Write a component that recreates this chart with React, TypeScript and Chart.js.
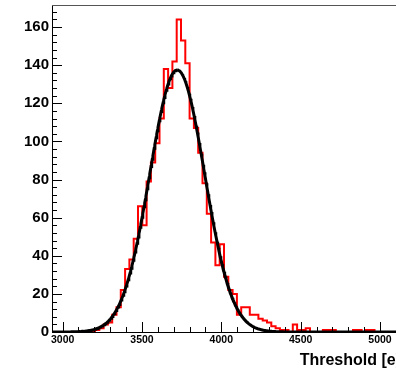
import React, { useEffect, useRef } from "react";
import { Chart, registerables } from "chart.js";

Chart.register(...registerables);

// ---- data ----
const X_MIN = 2933;
const X_MAX = 5101;
const N_BINS = 80;
const COUNTS = [
  0, 0, 0, 0, 0, 0, 0, 0, 0, 0,
  1, 2, 4, 5, 9, 13, 22, 33, 38, 49,
  66, 56, 79, 89, 99, 112, 138, 128, 142, 164,
  153, 141, 112, 107, 94, 78, 62, 47, 35, 46,
  29, 22, 20, 9, 13, 13, 9, 9, 7, 6,
  5, 3, 2, 1, 1, 0, 4, 1, 1, 2,
  0, 0, 0, 1, 1, 1, 0, 0, 0, 0,
  1, 1, 0, 1, 1, 0, 0, 0, 0, 0,
];
const FIT_CONSTANT = 137.5;
const FIT_MEAN = 3722;
const FIT_SIGMA = 172;
const X_TICKS = [3000, 3500, 4000, 4500, 5000];
const Y_TICKS = [0, 20, 40, 60, 80, 100, 120, 140, 160];
const Y_MAX = 171.6;
const X_TITLE = "Threshold [e]";

const FONT_FAMILY = '"Liberation Sans", Arial, Helvetica, sans-serif';

// step outline: each point sits at a bin's upper edge; "after" stepping draws
// the vertical at the previous edge, so bin k spans [low, high] at COUNTS[k]
function buildHistogram() {
  const w = (X_MAX - X_MIN) / N_BINS;
  const pts = COUNTS.map((c, k) => ({ x: X_MIN + (k + 1) * w, y: c }));
  pts.unshift({ x: X_MIN, y: 0 });
  return pts;
}

function buildFit() {
  const pts: { x: number; y: number }[] = [];
  for (let x = X_MIN; x <= X_MAX; x += 4) {
    const d = (x - FIT_MEAN) / FIT_SIGMA;
    pts.push({ x, y: FIT_CONSTANT * Math.exp(-0.5 * d * d) });
  }
  return pts;
}

const rootFrame = {
  id: "rootFrame",
  afterDraw(chart: any) {
    const { ctx, chartArea } = chart;
    const xs = chart.scales.x;
    const ys = chart.scales.y;
    ctx.save();
    // top frame line
    ctx.strokeStyle = "#555";
    ctx.lineWidth = 1;
    ctx.beginPath();
    ctx.moveTo(chartArea.left, chartArea.top + 0.5);
    ctx.lineTo(chartArea.right + 10, chartArea.top + 0.5);
    ctx.stroke();
    // ticks
    ctx.strokeStyle = "#000";
    ctx.lineWidth = 1;
    ctx.beginPath();
    const step = X_TICKS[1] - X_TICKS[0];
    const minorX = step / 5;
    for (let v = Math.ceil(X_MIN / minorX) * minorX; v <= X_MAX; v += minorX) {
      const px = Math.round(xs.getPixelForValue(v)) + 0.5;
      const major = Math.abs(v / step - Math.round(v / step)) < 1e-6;
      const len = major ? 10 : 5;
      ctx.moveTo(px, chartArea.bottom);
      ctx.lineTo(px, chartArea.bottom - len);
    }
    const ystep = Y_TICKS[1] - Y_TICKS[0];
    const minorY = ystep / 5;
    for (let v = 0; v <= Y_MAX; v += minorY) {
      const py = Math.round(ys.getPixelForValue(v)) + 0.5;
      const major = Math.abs(v / ystep - Math.round(v / ystep)) < 1e-6;
      const len = major ? 10 : 5;
      ctx.moveTo(chartArea.left, py);
      ctx.lineTo(chartArea.left + len, py);
    }
    ctx.stroke();
    // axis title
    ctx.fillStyle = "#000";
    ctx.font = `bold 16px ${FONT_FAMILY}`;
    ctx.textAlign = "right";
    ctx.textBaseline = "alphabetic";
    ctx.fillText(X_TITLE, 401, 364.5);
    ctx.restore();
  },
};

export default function App() {
  const ref = useRef<HTMLCanvasElement | null>(null);
  useEffect(() => {
    if (!ref.current) return;
    const chart = new Chart(ref.current, {
      type: "line",
      data: {
        datasets: [
          {
            data: buildFit(),
            borderColor: "#000",
            borderWidth: 3,
            pointRadius: 0,
            fill: false,
            tension: 0,
          },
          {
            data: buildHistogram(),
            borderColor: "#ff0000",
            borderWidth: 2,
            pointRadius: 0,
            fill: false,
            stepped: "after",
          },
        ],
      },
      options: {
        responsive: false,
        animation: false,
        devicePixelRatio: 1,
        layout: { padding: { top: 5, left: 0, right: 0, bottom: 0 } },
        plugins: { legend: { display: false }, tooltip: { enabled: false } },
        scales: {
          x: {
            type: "linear",
            min: X_MIN,
            max: X_MAX,
            position: "bottom",
            grid: { display: false, drawTicks: false },
            border: { display: true, color: "#000", width: 1 },
            ticks: {
              color: "#000",
              font: { family: FONT_FAMILY, size: 10.5, weight: "bold" },
              padding: 2,
              maxRotation: 0,
              autoSkip: false,
              callback: (v: any) => String(v),
            },
            afterBuildTicks: (s: any) => {
              s.ticks = X_TICKS.map((v) => ({ value: v }));
            },
            afterFit: (s: any) => {
              s.height = 38;
              s.paddingLeft = 0;
              s.paddingRight = 0;
            },
          },
          y: {
            type: "linear",
            min: 0,
            max: Y_MAX,
            grid: { display: false, drawTicks: false },
            border: { display: true, color: "#000", width: 1 },
            ticks: {
              color: "#000",
              font: { family: FONT_FAMILY, size: 15, weight: "bold" },
              padding: 3,
              autoSkip: false,
              callback: (v: any) => String(v),
            },
            afterBuildTicks: (s: any) => {
              s.ticks = Y_TICKS.map((v) => ({ value: v }));
            },
            afterFit: (s: any) => {
              s.width = 52;
              s.paddingTop = 0;
              s.paddingBottom = 0;
            },
          },
        },
      },
      plugins: [rootFrame],
    } as any);
    return () => chart.destroy();
  }, []);
  return (
    <canvas
      ref={ref}
      width={396}
      height={370}
      style={{ position: "fixed", left: 0, top: 0, width: 396, height: 370, background: "#fff" }}
    />
  );
}
